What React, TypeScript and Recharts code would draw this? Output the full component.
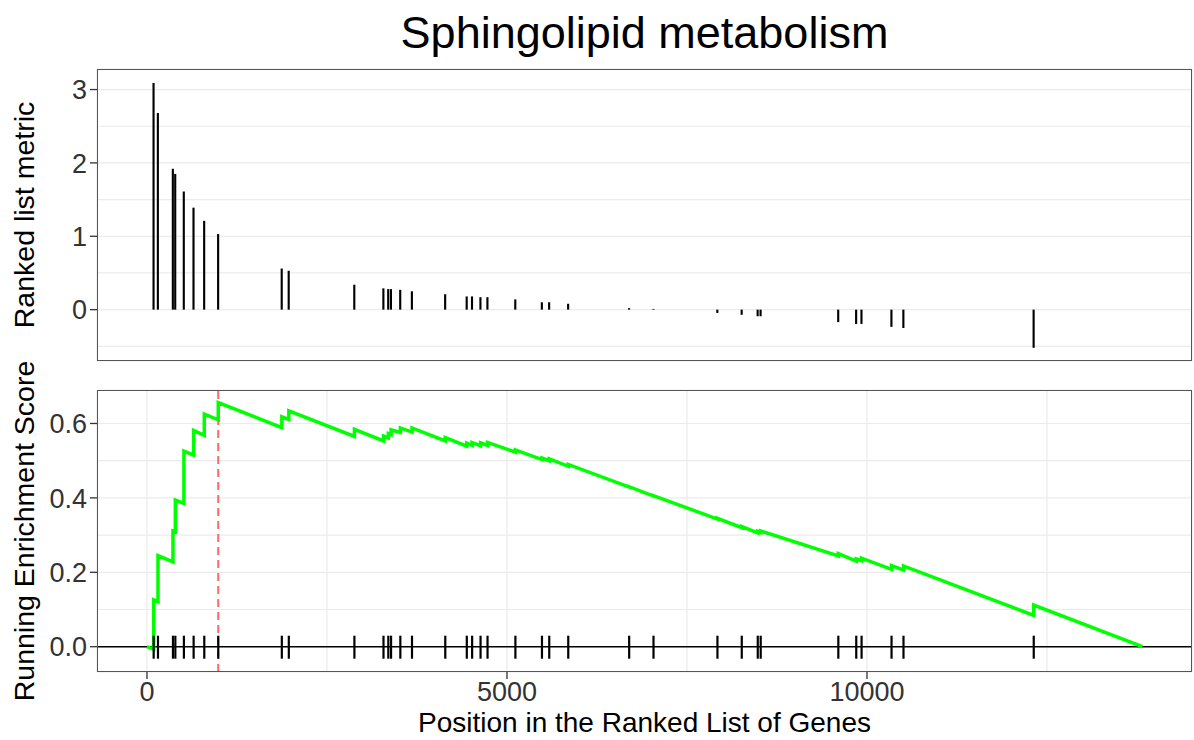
import React from "react";
import {
  ComposedChart,
  Bar,
  Line,
  Scatter,
  XAxis,
  YAxis,
  CartesianGrid,
  ReferenceLine,
} from "recharts";

// ---- data ----
const chartTitle = "Sphingolipid metabolism";
const xTitle = "Position in the Ranked List of Genes";
const yTitleTop = "Ranked list metric";
const yTitleBottom = "Running Enrichment Score";

const hitPositions = [
  93, 153, 361, 394, 513, 648, 796, 990, 1873, 1970, 2881, 3285, 3352, 3390,
  3519, 3681, 4143, 4442, 4516, 4633, 4730, 5117, 5486, 5587, 5851, 6697, 7035,
  7923, 8261, 8483, 8524, 9602, 9851, 9925, 10341, 10507, 12316,
];
const rankedMetric = [
  3.09, 2.68, 1.92, 1.85, 1.61, 1.39, 1.21, 1.03, 0.56, 0.53, 0.34, 0.29, 0.28,
  0.28, 0.27, 0.25, 0.21, 0.18, 0.18, 0.17, 0.17, 0.14, 0.1, 0.1, 0.08, 0.02,
  0.01, -0.045, -0.07, -0.09, -0.09, -0.17, -0.195, -0.195, -0.235, -0.25, -0.52,
];

const esPositions = [
  0, 93, 93, 153, 153, 361, 361, 394, 394, 513, 513, 648, 648, 796, 796, 990,
  990, 1873, 1873, 1970, 1970, 2881, 2881, 3285, 3285, 3352, 3352, 3390, 3390,
  3519, 3519, 3681, 3681, 4143, 4143, 4442, 4442, 4516, 4516, 4633, 4633, 4730,
  4730, 5117, 5117, 5486, 5486, 5587, 5587, 5851, 5851, 6697, 6697, 7035, 7035,
  7923, 7923, 8261, 8261, 8483, 8483, 8524, 8524, 9602, 9602, 9851, 9851, 9925,
  9925, 10341, 10341, 10507, 10507, 12316, 12316, 13825,
];
const esValues = [
  0, -0.007, 0.126, 0.121, 0.245, 0.228, 0.311, 0.309, 0.394, 0.385, 0.526,
  0.515, 0.581, 0.568, 0.625, 0.61, 0.656, 0.589, 0.618, 0.611, 0.634, 0.565,
  0.584, 0.553, 0.566, 0.561, 0.573, 0.57, 0.583, 0.576, 0.588, 0.577, 0.588,
  0.553, 0.562, 0.539, 0.547, 0.541, 0.549, 0.54, 0.548, 0.541, 0.549, 0.523,
  0.529, 0.503, 0.507, 0.5, 0.505, 0.485, 0.49, 0.429, 0.43, 0.405, 0.406,
  0.343, 0.345, 0.32, 0.323, 0.306, 0.31, 0.307, 0.311, 0.244, 0.25, 0.23,
  0.236, 0.231, 0.238, 0.208, 0.218, 0.206, 0.217, 0.084, 0.112, 0,
];
const peakPosition = 990;

const xDomain: [number, number] = [-694, 14514];
const xMajorTicks = [0, 5000, 10000];
const xMinorTicks = [2500, 7500, 12500];
const topYDomain: [number, number] = [-0.7, 3.28];
const topYMajor = [0, 1, 2, 3];
const topYMinor = [-0.5, 0.5, 1.5, 2.5];
const botYDomain: [number, number] = [-0.068, 0.69];
const botYMajor = [0, 0.2, 0.4, 0.6];
const botYMinor = [0.1, 0.3, 0.5];

// ---- derived tables ----
const hitData = hitPositions.map((pos, i) => ({ pos, metric: rankedMetric[i] }));
const tickData = hitPositions.map((pos) => ({ pos, es: 0 }));
const esData = esPositions.map((pos, i) => ({ pos, es: esValues[i] }));
const sortNum = (a: number[]) => [...a].sort((p, q) => p - q);
const xAllTicks = sortNum([...xMajorTicks, ...xMinorTicks]);
const topYTicks = sortNum([...topYMajor, ...topYMinor]);
const botYTicks = sortNum([...botYMajor, ...botYMinor]);

const FONT = "'Liberation Sans', Arial, Helvetica, sans-serif";
const TICK_COLOR = "#333333";
const GRID = "#EBEBEB";

const isIn = (arr: number[], v: number) => arr.some((m) => Math.abs(m - v) < 1e-9);

const makeYTick = (majors: number[], fmt: (v: number) => string) => (props: any) => {
  const { x, y, payload } = props;
  const v = payload.value;
  if (!isIn(majors, v)) return <g />;
  return (
    <g>
      <line x1={x + 3} x2={x + 10} y1={y} y2={y} stroke={TICK_COLOR} strokeWidth={1.3} />
      <text x={x} y={y} dy="0.36em" textAnchor="end" fontSize={27} fill={TICK_COLOR} fontFamily={FONT}>
        {fmt(v)}
      </text>
    </g>
  );
};

const XTick = (props: any) => {
  const { x, y, payload } = props;
  const v = payload.value;
  if (!isIn(xMajorTicks, v)) return <g />;
  return (
    <g>
      <line x1={x} x2={x} y1={y - 10} y2={y - 3} stroke={TICK_COLOR} strokeWidth={1.3} />
      <text x={x} y={y} dy="0.71em" textAnchor="middle" fontSize={27} fill={TICK_COLOR} fontFamily={FONT}>
        {String(v)}
      </text>
    </g>
  );
};

const TopYTick = makeYTick(topYMajor, (v) => String(v));
const BotYTick = makeYTick(botYMajor, (v) => v.toFixed(1));

const TickMark = (props: any) => {
  const { cx, cy } = props;
  return <line x1={cx} x2={cx} y1={cy - 11} y2={cy + 12} stroke="#000" strokeWidth={2.2} />;
};

const borderStyle = (left: number, top: number, width: number, height: number): React.CSSProperties => ({
  position: "absolute",
  left,
  top,
  width,
  height,
  boxSizing: "border-box",
  border: "1.5px solid #555555",
  pointerEvents: "none",
});

export default function App() {
  return (
    <div
      style={{
        position: "fixed",
        left: 0,
        top: 0,
        width: 1194,
        height: 740,
        background: "#ffffff",
        fontFamily: FONT,
        overflow: "hidden",
      }}
    >
      <div style={{ position: "absolute", left: 0, top: 0 }}>
        <ComposedChart width={1194} height={380} data={hitData} margin={{ top: 69, right: 2, bottom: 18, left: 0 }}>
          <CartesianGrid stroke={GRID} strokeWidth={1.2} />
          <XAxis
            type="number"
            dataKey="pos"
            domain={xDomain}
            ticks={xAllTicks}
            interval={0}
            height={1}
            tick={false}
            tickLine={false}
            axisLine={false}
            allowDataOverflow
          />
          <YAxis
            type="number"
            domain={topYDomain}
            ticks={topYTicks}
            interval={0}
            width={97}
            tickSize={7}
            tickMargin={3}
            tickLine={false}
            axisLine={false}
            tick={TopYTick}
            allowDataOverflow
          />
          <Bar dataKey="metric" fill="#000" barSize={2.4} isAnimationActive={false} />
        </ComposedChart>
      </div>

      <div style={{ position: "absolute", left: 0, top: 375 }}>
        <ComposedChart width={1194} height={365} margin={{ top: 15, right: 2, bottom: 8, left: 0 }}>
          <CartesianGrid stroke={GRID} strokeWidth={1.2} />
          <XAxis
            type="number"
            dataKey="pos"
            domain={xDomain}
            ticks={xAllTicks}
            interval={0}
            height={60}
            tickSize={7}
            tickMargin={3}
            tickLine={false}
            axisLine={false}
            tick={XTick}
            allowDataOverflow
          />
          <YAxis
            type="number"
            dataKey="es"
            domain={botYDomain}
            ticks={botYTicks}
            interval={0}
            width={97}
            tickSize={7}
            tickMargin={3}
            tickLine={false}
            axisLine={false}
            tick={BotYTick}
            allowDataOverflow
          />
          <ReferenceLine y={0} stroke="#000" strokeWidth={1.6} />
          <Scatter data={tickData} dataKey="es" shape={TickMark} isAnimationActive={false} />
          <ReferenceLine x={peakPosition} stroke="#F8696B" strokeWidth={2} strokeDasharray="8 5" />
          <Line
            data={esData}
            dataKey="es"
            type="linear"
            stroke="#00FF00"
            strokeWidth={3.5}
            dot={false}
            isAnimationActive={false}
          />
        </ComposedChart>
      </div>

      <div style={borderStyle(97, 69, 1095, 292)} />
      <div style={borderStyle(97, 390, 1095, 282)} />

      <svg
        width={1194}
        height={740}
        style={{ position: "absolute", left: 0, top: 0, pointerEvents: "none" }}
      >
        <text x={644.5} y={48} textAnchor="middle" fontSize={45} fill="#000" fontFamily={FONT}>
          {chartTitle}
        </text>
        <text x={644.5} y={732} textAnchor="middle" fontSize={28} fill="#000" fontFamily={FONT}>
          {xTitle}
        </text>
        <text
          x={34}
          y={215}
          textAnchor="middle"
          fontSize={28.5}
          fill="#000"
          fontFamily={FONT}
          transform="rotate(-90, 34, 215)"
        >
          {yTitleTop}
        </text>
        <text
          x={34}
          y={531}
          textAnchor="middle"
          fontSize={28.5}
          fill="#000"
          fontFamily={FONT}
          transform="rotate(-90, 34, 531)"
        >
          {yTitleBottom}
        </text>
      </svg>
    </div>
  );
}
